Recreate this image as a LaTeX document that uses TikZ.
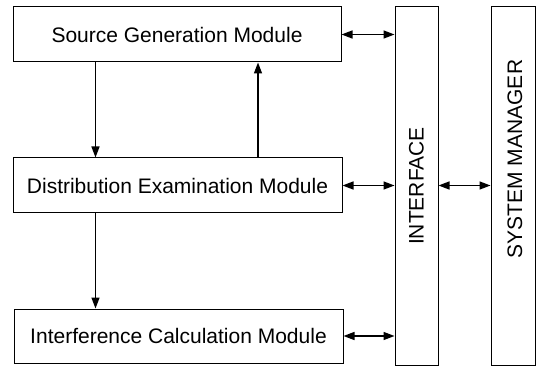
\documentclass[tikz,border=0pt]{standalone}
\usepackage{fontspec}
\setmainfont{Liberation Sans}
\usetikzlibrary{arrows.meta}
\begin{document}
\begin{tikzpicture}[x=1pt,y=-1pt,
  box/.style={draw,line width=1pt,inner sep=0pt},
  lbl/.style={font=\fontsize{21}{24}\selectfont},
  arr/.style={line width=1.4pt,-{Triangle[length=11pt,width=8pt]}},
  barr/.style={line width=1.4pt,{Triangle[length=11pt,width=8pt]}-{Triangle[length=11pt,width=8pt]}}]
\useasboundingbox (0,0) rectangle (538,366);
\node[box,minimum width=328pt,minimum height=55pt] (sg) at (177,34.5) {};
\node[lbl] at (sg.center) {Source Generation Module};
\node[box,minimum width=329pt,minimum height=55pt] (de) at (177.5,185.5) {};
\node[lbl] at (de.center) {Distribution Examination Module};
\node[box,minimum width=329pt,minimum height=54pt] (ic) at (178.5,336) {};
\node[lbl] at (ic.center) {Interference Calculation Module};
\node[box,minimum width=43pt,minimum height=358pt] (if) at (416.5,186) {};
\node[lbl,rotate=90] at (416.5,186) {INTERFACE};
\node[box,minimum width=44pt,minimum height=358pt] (sm) at (513,186) {};
\node[lbl,rotate=90] at (515,159) {SYSTEM MANAGER};
\coordinate (a1) at (95.5,0);
\coordinate (a2) at (258,0);
\draw[arr] (sg.south -| a1) -- (de.north -| a1);
\draw[arr] (de.north -| a2) -- (sg.south -| a2);
\draw[arr] (de.south -| a1) -- (ic.north -| a1);
\draw[barr] (sg.east) -- (sg.east -| if.west);
\draw[barr] (de.east) -- (de.east -| if.west);
\draw[barr] (ic.east) -- (ic.east -| if.west);
\draw[barr] (if.east |- de.east) -- (sm.west |- de.east);
\end{tikzpicture}
\end{document}
